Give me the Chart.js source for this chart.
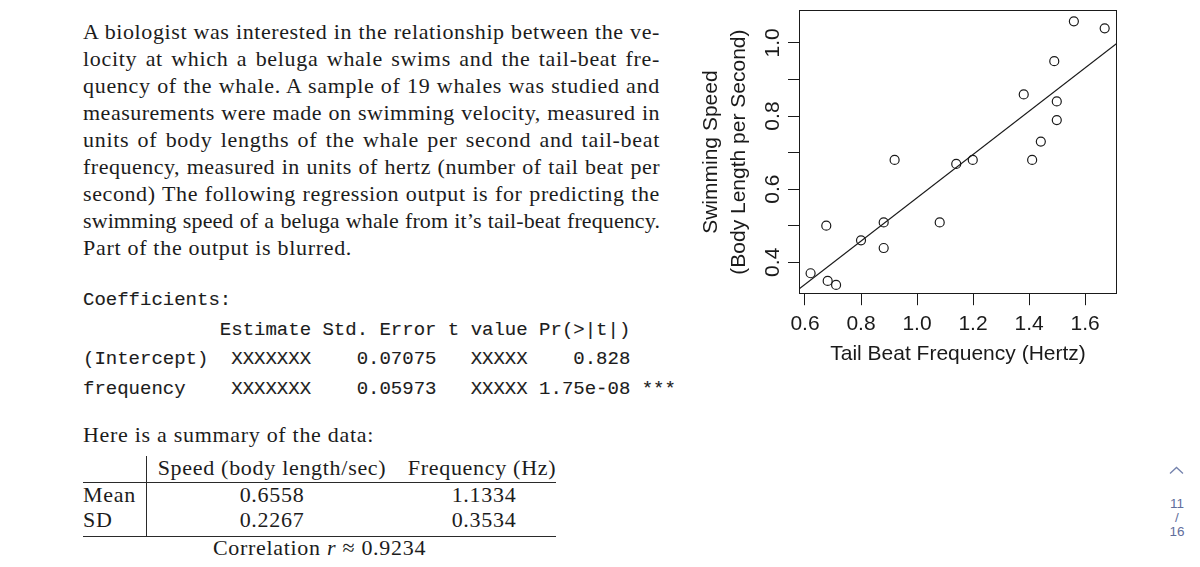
<!DOCTYPE html>
<html>
<head>
<meta charset="utf-8">
<script src="https://cdn.jsdelivr.net/npm/chart.js@4.4.1/dist/chart.umd.min.js"></script>
<style>
  html, body { margin: 0; padding: 0; background: #fff; }
  body { width: 1200px; height: 567px; position: relative; overflow: hidden; color: #1c1c1c; }
  .serif { font-family: 'Liberation Serif', 'Times New Roman', serif; font-size: 22px; letter-spacing: 0.7px; line-height: 26.25px; }
  .abs { position: absolute; white-space: nowrap; }
  #para { position: absolute; left: 83px; top: 19px; width: 577px; line-height: 26.95px; }
  #para .ln { text-align: justify; text-align-last: justify; }
  #para .ln.last { text-align: left; text-align-last: left; }
  pre.rout { position: absolute; left: 83px; top: 286px; margin: 0; font-family: 'Liberation Mono', 'Courier New', monospace; font-size: 19px; line-height: 29.7px; color: #1c1c1c; -webkit-text-stroke: 0.12px #1c1c1c; }
  .rule { position: absolute; background: #2a2a2a; }
  .c { text-align: center; }
  #plot { position: absolute; left: 690px; top: 0; width: 450px; height: 380px; }
  .pager { position: absolute; left: 1162px; width: 30px; text-align: center; font-family: 'Liberation Sans', Arial, sans-serif; font-size: 13.5px; line-height: 14px; color: #5f6e9c; }
</style>
</head>
<body>

<!-- texto del problema -->
<div id="para" class="serif">
  <div class="ln">A biologist was interested in the relationship between the ve-</div>
  <div class="ln">locity at which a beluga whale swims and the tail-beat fre-</div>
  <div class="ln">quency of the whale. A sample of 19 whales was studied and</div>
  <div class="ln">measurements were made on swimming velocity, measured in</div>
  <div class="ln">units of body lengths of the whale per second and tail-beat</div>
  <div class="ln">frequency, measured in units of hertz (number of tail beat per</div>
  <div class="ln">second) The following regression output is for predicting the</div>
  <div class="ln">swimming speed of a beluga whale from it’s tail-beat frequency.</div>
  <div class="ln last">Part of the output is blurred.</div>
</div>

<pre class="rout">Coefficients:
            Estimate Std. Error t value Pr(&gt;|t|)
(Intercept)  XXXXXXX    0.07075   XXXXX    0.828
frequency    XXXXXXX    0.05973   XXXXX 1.75e-08 ***</pre>

<!-- resumen -->
<div class="abs serif" style="left:83px;top:422px">Here is a summary of the data:</div>
<div class="abs serif c" style="left:152px;top:454.5px;width:240px">Speed (body length/sec)</div>
<div class="abs serif c" style="left:402px;top:454.5px;width:160px">Frequency (Hz)</div>
<div class="abs serif" style="left:83px;top:482px">Mean</div>
<div class="abs serif c" style="left:212px;top:482px;width:120px">0.6558</div>
<div class="abs serif c" style="left:424px;top:482px;width:120px">1.1334</div>
<div class="abs serif" style="left:83px;top:507px">SD</div>
<div class="abs serif c" style="left:212px;top:507px;width:120px">0.2267</div>
<div class="abs serif c" style="left:424px;top:507px;width:120px">0.3534</div>
<div class="abs serif c" style="left:83px;top:535px;width:473px">Correlation <i>r</i> ≈ 0.9234</div>
<div class="rule" style="left:146px;top:456px;width:1px;height:81px"></div>
<div class="rule" style="left:83px;top:482px;width:473px;height:1px"></div>
<div class="rule" style="left:83px;top:536px;width:473px;height:1px"></div>

<!-- gráfico -->
<div id="plot"><canvas id="chart" width="450" height="380"></canvas></div>

<!-- paginador -->
<svg style="position:absolute;left:1169px;top:466px" width="15" height="9">
  <polyline points="1,7.5 7.5,1.5 14,7.5" fill="none" stroke="#7583ad" stroke-width="1.3"/>
</svg>
<div class="pager" style="top:497px">11</div>
<div class="pager" style="top:511px">/</div>
<div class="pager" style="top:525px">16</div>

<script>
// datos
const frequency = [0.620, 0.676, 0.681, 0.711, 0.800, 0.881, 0.881, 0.920, 1.081, 1.140,
                   1.199, 1.381, 1.411, 1.442, 1.490, 1.499, 1.499, 1.560, 1.670];
const speed     = [0.370, 0.500, 0.349, 0.338, 0.460, 0.509, 0.439, 0.680, 0.509, 0.669,
                   0.680, 0.859, 0.680, 0.730, 0.950, 0.840, 0.789, 1.059, 1.040];
const fitX = [0.5786, 1.714];
const fitY = [0.327, 0.999];
const xTicks = [0.6, 0.8, 1.0, 1.2, 1.4, 1.6];
const yTicks = [0.4, 0.5, 0.6, 0.7, 0.8, 0.9, 1.0];
const yLabels = [0.4, 0.6, 0.8, 1.0];

// ajusta líneas justificadas que no entran
function fitLines() {
  document.querySelectorAll('#para .ln').forEach(ln => {
    ln.style.whiteSpace = 'nowrap';
    ln.style.textAlignLast = 'left';
    ln.style.textAlign = 'left';
    const r = document.createRange();
    r.selectNodeContents(ln);
    let ls = 0.7;
    while (r.getBoundingClientRect().width > ln.clientWidth - 1 && ls > -1.5) {
      ls -= 0.1;
      ln.style.letterSpacing = ls.toFixed(2) + 'px';
    }
    ln.style.whiteSpace = '';
    ln.style.textAlignLast = '';
    ln.style.textAlign = '';
  });
}
fitLines();

const INK = '#1a1a1a';
const FONT = "'Liberation Sans', Arial, sans-serif";
Chart.defaults.font.family = FONT;
Chart.defaults.color = INK;

const boxPlugin = {
  id: 'box',
  afterDraw(chart) {
    const { ctx, chartArea: a, scales } = chart;
    ctx.save();
    ctx.strokeStyle = INK;
    ctx.lineWidth = 1;
    const l = Math.round(a.left) + 0.5, t = Math.round(a.top) + 0.5;
    const r = Math.round(a.right) - 0.5, b = Math.round(a.bottom) - 0.5;
    ctx.strokeRect(l, t, r - l, b - t);
    // etiquetas del eje y giradas, como en R
    ctx.fillStyle = INK;
    ctx.font = '21px ' + FONT;
    ctx.textAlign = 'center';
    ctx.textBaseline = 'middle';
    yLabels.forEach(v => {
      const y = scales.y.getPixelForValue(v);
      ctx.save();
      ctx.translate(a.left - 26, y);
      ctx.rotate(-Math.PI / 2);
      ctx.fillText(v.toFixed(1), 0, 0);
      ctx.restore();
    });
    ctx.restore();
  }
};

new Chart(document.getElementById('chart'), {
  type: 'scatter',
  data: {
    datasets: [
      {
        data: frequency.map((x, i) => ({ x, y: speed[i] })),
        pointStyle: 'circle',
        radius: 4.5,
        borderWidth: 1.2,
        borderColor: INK,
        backgroundColor: 'rgba(0,0,0,0)',
      },
      {
        data: fitX.map((x, i) => ({ x, y: fitY[i] })),
        showLine: true,
        borderColor: INK,
        borderWidth: 1.1,
        pointRadius: 0,
        fill: false,
      }
    ]
  },
  options: {
    responsive: false,
    animation: false,
    layout: { padding: { left: 0, top: 10, right: 23, bottom: 13 } },
    plugins: { legend: { display: false }, tooltip: { enabled: false } },
    scales: {
      x: {
        type: 'linear',
        min: 0.5786,
        max: 1.714,
        afterBuildTicks: s => { s.ticks = xTicks.map(v => ({ value: v })); },
        ticks: {
          color: INK, font: { size: 21 }, padding: 6, autoSkip: false,
          maxRotation: 0, callback: v => v.toFixed(1)
        },
        grid: { drawOnChartArea: false, tickLength: 11, color: INK },
        border: { display: false },
        title: {
          display: true, text: 'Tail Beat Frequency (Hertz)', color: INK,
          font: { size: 21 }, padding: { top: -0.6, bottom: 0 }
        }
      },
      y: {
        type: 'linear',
        min: 0.3127,
        max: 1.09,
        afterBuildTicks: s => { s.ticks = yTicks.map(v => ({ value: v })); },
        ticks: { display: false },
        grid: { drawOnChartArea: false, tickLength: 11, color: INK },
        border: { display: false },
        title: {
          display: true, text: ['Swimming Speed', '(Body Length per Second)'], color: INK,
          font: { size: 21, lineHeight: 28 / 21 }, padding: { top: 7, bottom: 35 }
        }
      }
    }
  },
  plugins: [boxPlugin]
});
</script>
</body>
</html>
